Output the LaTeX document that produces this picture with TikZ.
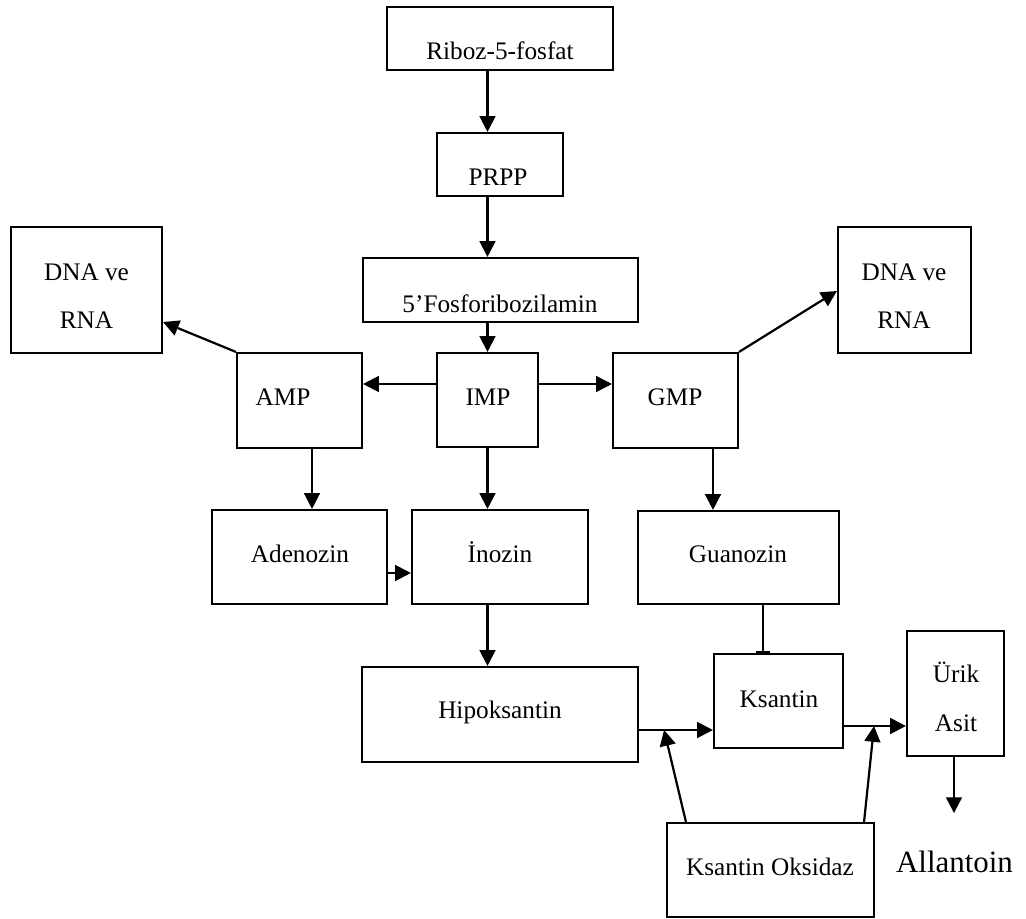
\documentclass[tikz,border=0pt]{standalone}
\usepackage{fontspec}
\setmainfont{Liberation Serif}
\usetikzlibrary{arrows.meta,calc}
\newcommand{\pxu}{0.475pt}
\tikzstyle{box}=[draw,line width=1pt,inner sep=0pt]
\tikzstyle{lbl}=[anchor=base,inner sep=0pt,font=\fontsize{12}{14}\selectfont]
\tikzstyle{arr}=[line width=1.05pt,-{Triangle[length=7.5pt,width=7.5pt]}]
\tikzstyle{bararr}=[line width=1.05pt,-{Bar[width=7pt]}]

\begin{document}
\begin{tikzpicture}[x=\pxu,y=-\pxu]
\useasboundingbox (0,0) rectangle (1026,919);
% boxes
  \node[box,minimum width=226*\pxu,minimum height=63*\pxu]  (riboz)    at (500,38.5)   {};
  \node[box,minimum width=126*\pxu,minimum height=63*\pxu]  (prpp)     at (500,164.5)  {};
  \node[box,minimum width=275*\pxu,minimum height=64*\pxu]  (fosfor)   at (500.5,290)  {};
  \node[box,minimum width=151*\pxu,minimum height=126*\pxu] (dnal)     at (86.5,290)   {};
  \node[box,minimum width=125*\pxu,minimum height=95*\pxu]  (amp)      at (299.5,400.5) {};
  \node[box,minimum width=101*\pxu,minimum height=94*\pxu]  (imp)      at (487.5,400)  {};
  \node[box,minimum width=125*\pxu,minimum height=95*\pxu]  (gmp)      at (675.5,400.5) {};
  \node[box,minimum width=133*\pxu,minimum height=126*\pxu] (dnar)     at (904.5,290)  {};
  \node[box,minimum width=175*\pxu,minimum height=94*\pxu]  (adenozin) at (299.5,557)  {};
  \node[box,minimum width=176*\pxu,minimum height=94*\pxu]  (inozin)   at (500,557)    {};
  \node[box,minimum width=201*\pxu,minimum height=93*\pxu]  (guanozin) at (738.5,557.5) {};
  \node[box,minimum width=276*\pxu,minimum height=95*\pxu]  (hipok)    at (500,714.5)  {};
  \node[box,minimum width=129*\pxu,minimum height=94*\pxu]  (ksantin)  at (778.5,701)  {};
  \node[box,minimum width=97*\pxu,minimum height=125*\pxu]  (urik)     at (955.5,693.5) {};
  \node[box,minimum width=207*\pxu,minimum height=94*\pxu]  (oksidaz)  at (770.5,870)  {};
% labels
  \node[lbl] (triboz)    at (500,60)  {Riboz-5-fosfat};
  \node[lbl] (tprpp)     at (498,185) {PRPP};
  \node[lbl] (tfosfor)   at (500,312) {5’Fosforibozilamin};
  \node[lbl] (tdnala)    at (86.5,280) {DNA ve};
  \node[lbl] (tdnalb)    at (86.5,328) {RNA};
  \node[lbl] (tamp)      at (283,405) {AMP};
  \node[lbl] (timp)      at (488,405) {IMP};
  \node[lbl] (tgmp)      at (675,405) {GMP};
  \node[lbl] (tdnara)    at (904,280) {DNA ve};
  \node[lbl] (tdnarb)    at (904,328) {RNA};
  \node[lbl] (tadenozin) at (300,562) {Adenozin};
  \node[lbl] (tinozin)   at (500,562) {İnozin};
  \node[lbl] (tguanozin) at (738,562) {Guanozin};
  \node[lbl] (thipok)    at (500,718) {Hipoksantin};
  \node[lbl] (tksantin)  at (779,707) {Ksantin};
  \node[lbl] (turika)    at (956,682) {Ürik};
  \node[lbl] (turikb)    at (956,731) {Asit};
  \node[lbl] (toksidaz)  at (770,875) {Ksantin Oksidaz};
  \node[lbl,font=\fontsize{14.7}{17}\selectfont] (allantoin) at (954.5,872) {Allantoin};
% free ends
  \coordinate (xo1) at ($(hipok.east)+(25,15.5)$);
  \coordinate (xo2) at ($(ksantin.east)+(30,25)$);
  \coordinate (allend) at ($(urik.south)+(-1.5,56)$);
% connectors
  \draw[arr] (riboz.south -| imp) -- (prpp.north -| imp);
  \draw[arr] (prpp.south -| imp) -- (fosfor.north -| imp);
  \draw[arr] (fosfor.south -| imp) -- (imp.north);
  \draw[arr] ($(imp.west)+(0,-16)$) -- ($(amp.east)+(0,-16.5)$);
  \draw[arr] ($(imp.east)+(0,-16)$) -- ($(gmp.west)+(0,-16.5)$);
  \draw[arr] (amp.north west) -- ($(dnal.east)+(0,32)$);
  \draw[arr] (gmp.north east) -- ($(dnar.west)+(0,1)$);
  \draw[arr] ($(amp.south)+(12.5,0)$) -- ($(adenozin.north)+(12.5,0)$);
  \draw[arr] (imp.south) -- (imp.south |- inozin.north);
  \draw[arr] ($(gmp.south)+(37.5,0)$) -- ($(guanozin.north)+(-25.5,0)$);
  \draw[arr] ($(adenozin.east)+(0,16)$) -- ($(inozin.west)+(0,16)$);
  \draw[arr] (inozin.south -| imp) -- (hipok.north -| imp);
  \draw[bararr] ($(guanozin.south)+(24.5,0)$) -- ($(ksantin.north)+(-15.5,0)$);
  \draw[arr] ($(hipok.east)+(0,15.5)$) -- ($(ksantin.west)+(0,29)$);
  \draw[arr] ($(ksantin.east)+(0,25)$) -- ($(urik.west)+(0,32.5)$);
  \draw[arr] ($(oksidaz.north west)+(20,0)$) -- (xo1);
  \draw[arr] ($(oksidaz.north east)+(-11,0)$) -- (xo2);
  \draw[arr] ($(urik.south)+(-1.5,0)$) -- (allend);
\end{tikzpicture}
\end{document}
